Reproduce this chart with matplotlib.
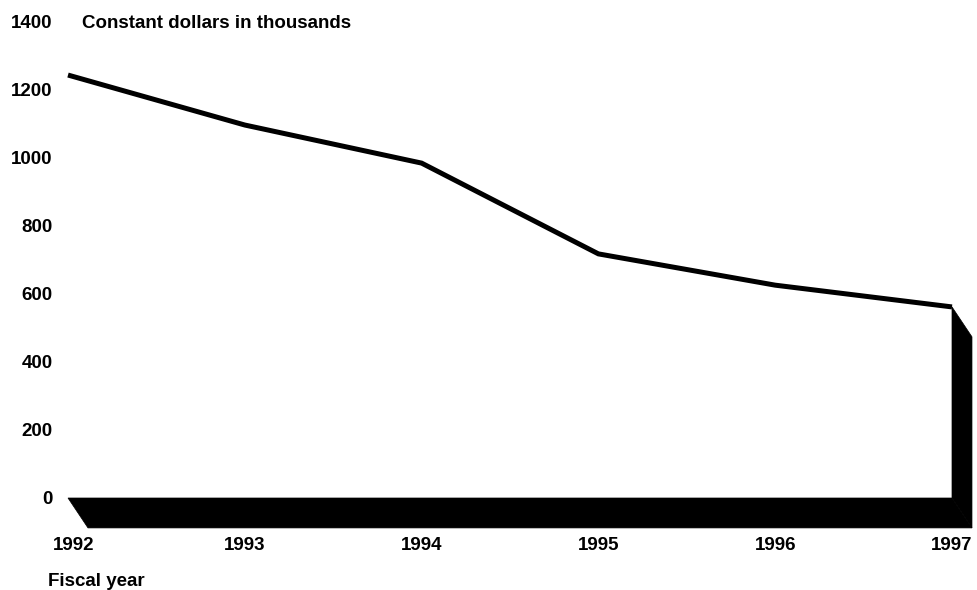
import matplotlib
matplotlib.use("Agg")
import matplotlib.pyplot as plt
from matplotlib.patches import Polygon
import matplotlib.transforms as mtransforms

years = [1992, 1993, 1994, 1995, 1996, 1997]
values = [1244, 1097, 985, 718, 626, 562]
yticks = [0, 200, 400, 600, 800, 1000, 1200, 1400]
ylabel_text = "Constant dollars in thousands"
xlabel_text = "Fiscal year"

plt.rcParams['font.family'] = ['Liberation Sans', 'DejaVu Sans']
plt.rcParams['font.weight'] = 'bold'

FS = 13.5
W, H = 977, 590
fig = plt.figure(figsize=(W / 100, H / 100), dpi=100)
ax = fig.add_axes([68 / W, 92 / H, (952 - 68) / W, (498 - 22) / H])
ax.set_xlim(years[0], years[-1])
ax.set_ylim(0, 1400)

# depth offsets (data units)
dx = 0.113
dy = 88

bottom = Polygon([(years[0], 0), (years[-1], 0), (years[-1] + dx, -dy), (years[0] + dx, -dy)],
                 closed=True, facecolor='black', edgecolor='black', lw=0.5, clip_on=False)
side = Polygon([(years[-1], 0), (years[-1], values[-1]), (years[-1] + dx, values[-1] - dy),
                (years[-1] + dx, -dy)],
               closed=True, facecolor='black', edgecolor='black', lw=0.5, clip_on=False)
ax.add_patch(bottom)
ax.add_patch(side)

ax.plot(years, values, color='black', lw=3.6, solid_capstyle='butt', solid_joinstyle='miter',
        clip_on=False, zorder=3)

for s in ax.spines.values():
    s.set_visible(False)

ax.set_yticks(yticks)
ax.set_yticklabels([str(v) for v in yticks], fontsize=FS, fontweight='bold')
ax.set_xticks(years)
ax.set_xticklabels([str(y) for y in years], fontsize=FS, fontweight='bold')
ax.tick_params(axis='y', length=0, pad=11)
ax.tick_params(axis='x', length=0, pad=28)

# nudge first x tick label right a little
lbl = ax.get_xticklabels()[0]
lbl.set_transform(lbl.get_transform() + mtransforms.ScaledTranslation(6 / 100, 0, fig.dpi_scale_trans))

fig.text(82 / W, 1 - 23 / H, ylabel_text, fontsize=FS, fontweight='bold', ha='left', va='center')
fig.text(48 / W, 1 - 582 / H, xlabel_text, fontsize=FS, fontweight='bold', ha='left', va='center')

fig.savefig("out.png", dpi=100, facecolor='white')
